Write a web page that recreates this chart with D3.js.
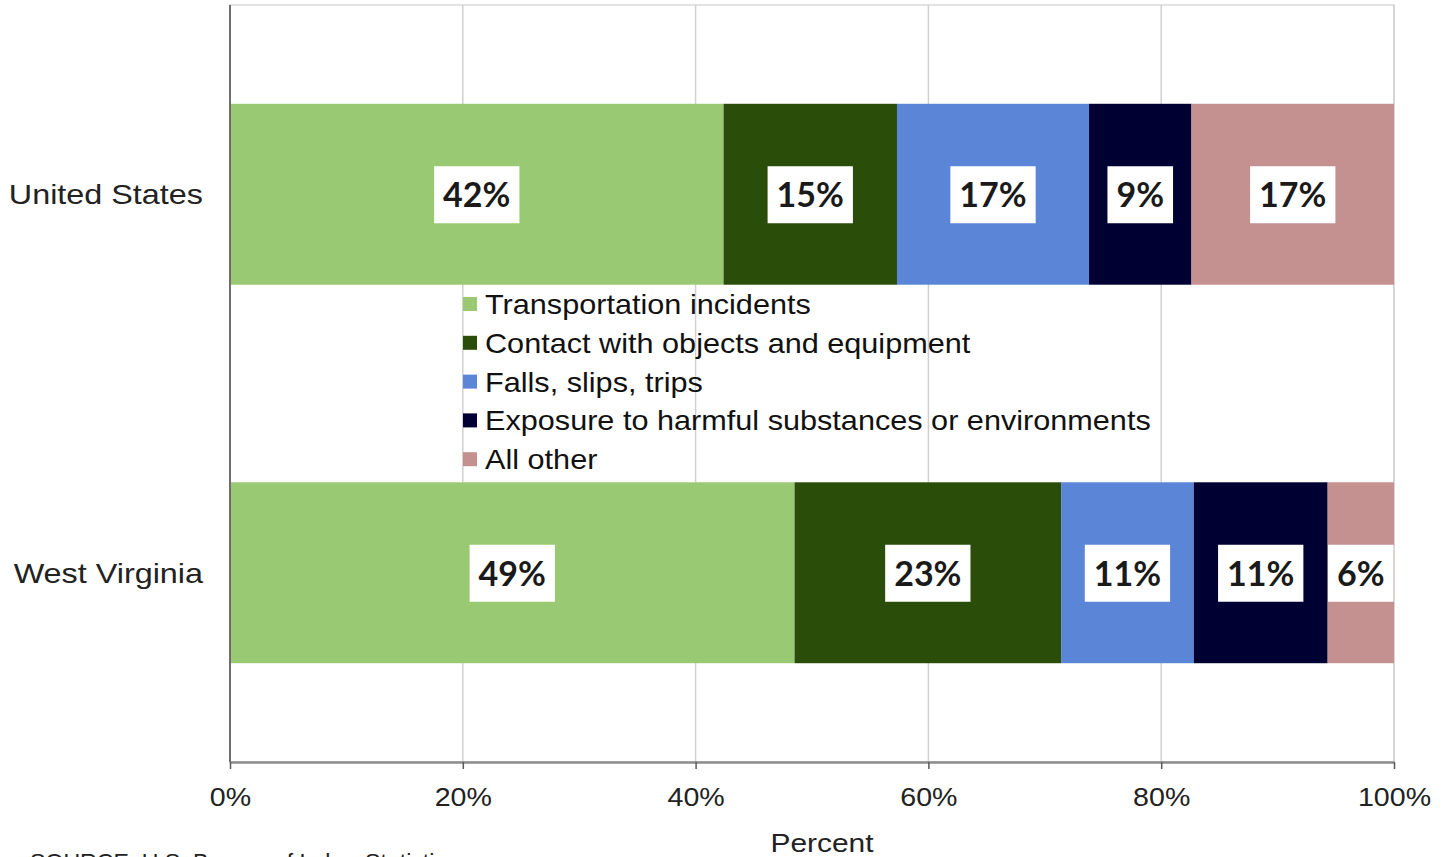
<!DOCTYPE html>
<html><head><meta charset="utf-8">
<script src="https://cdn.jsdelivr.net/npm/d3@7"></script>
<style>body{margin:0;background:#fff}svg{display:block}</style>
</head><body>
<svg id="c" width="1449" height="857"></svg>
<script>
const regions = ["United States", "West Virginia"];
const seriesNames = ["Transportation incidents", "Contact with objects and equipment", "Falls, slips, trips", "Exposure to harmful substances or environments", "All other"];
const usValues = [42.4, 14.9, 16.5, 8.8, 17.4];
const wvValues = [48.5, 22.9, 11.4, 11.5, 5.7];
const usLabels = ["42%", "15%", "17%", "9%", "17%"];
const wvLabels = ["49%", "23%", "11%", "11%", "6%"];
const colors = ["#99C973", "#2A4D0A", "#5B85D6", "#000033", "#C49090"];
const xTicks = [0, 20, 40, 60, 80, 100];

const svg = d3.select("#c");
const L = 230, R = 1394, T = 5, B = 762;
const x = d3.scaleLinear().domain([0, 100]).range([L, R]);
const y = d3.scaleBand().domain(regions).range([T, B]).paddingInner(0.522).paddingOuter(0.261);

function stretch(sel, f) {
  sel.each(function () {
    const w = this.getComputedTextLength();
    d3.select(this).attr("textLength", w * f).attr("lengthAdjust", "spacingAndGlyphs");
  });
}

// plot border & grid
svg.append("rect").attr("x", L).attr("y", T).attr("width", R - L).attr("height", B - T)
  .attr("fill", "none").attr("stroke", "#d9d9d9").attr("stroke-width", 1.5);
svg.append("g").selectAll("line").data(xTicks.slice(1)).join("line")
  .attr("x1", d => x(d)).attr("x2", d => x(d)).attr("y1", T).attr("y2", B)
  .attr("stroke", "#d0d0d0").attr("stroke-width", 1.5);

const rows = [
  {region: regions[0], values: usValues, labels: usLabels},
  {region: regions[1], values: wvValues, labels: wvLabels}
];

rows.forEach(r => {
  let cum = 0;
  const segs = r.values.map((v, i) => { const s = {x0: cum, x1: cum + v, i, label: r.labels[i]}; cum += v; return s; });
  const g = svg.append("g");
  g.selectAll("rect").data(segs).join("rect")
    .attr("x", d => x(d.x0)).attr("width", d => x(d.x1) - x(d.x0))
    .attr("y", y(r.region)).attr("height", y.bandwidth())
    .attr("fill", d => colors[d.i]);
  const cy = y(r.region) + y.bandwidth() / 2;
  segs.forEach(d => {
    const cx = (x(d.x0) + x(d.x1)) / 2;
    const lg = g.append("g");
    const box = lg.append("rect").attr("fill", "#fff");
    const t = lg.append("text").attr("x", cx).attr("y", cy + 13)
      .attr("text-anchor", "middle").attr("font-family", "Lato, 'Open Sans', sans-serif")
      .attr("font-weight", "bold").attr("font-size", 34).attr("fill", "#1a1a1a").text(d.label);
    const w = t.node().getComputedTextLength();
    box.attr("x", cx - w / 2 - 9).attr("width", w + 18).attr("y", cy - 28).attr("height", 57);
  });
});

// left axis line
svg.append("line").attr("x1", L).attr("x2", L).attr("y1", T).attr("y2", B)
  .attr("stroke", "#6e6e6e").attr("stroke-width", 2);

// x axis
const xAxis = d3.axisBottom(x).tickValues(xTicks).tickFormat(d => d + "%").tickSize(7).tickSizeOuter(0);
const ax = svg.append("g").attr("transform", `translate(0,${B})`).call(xAxis);
ax.select(".domain").attr("stroke", "#8c8c8c").attr("stroke-width", 2.5);
ax.selectAll(".tick line").attr("stroke", "#595959").attr("stroke-width", 1.5);
ax.selectAll(".tick text").attr("font-family", "'Liberation Sans', Arial, sans-serif")
  .attr("font-size", 26).attr("fill", "#222").attr("dy", "1.3em").call(stretch, 1.1);

// y category labels
svg.append("g").selectAll("text").data(regions).join("text")
  .attr("x", 203).attr("y", d => y(d) + y.bandwidth() / 2 + 10)
  .attr("text-anchor", "end").attr("font-family", "'Liberation Sans', Arial, sans-serif")
  .attr("font-size", 28).attr("fill", "#222").text(d => d).call(stretch, 1.155);

// axis title
svg.append("text").attr("x", 822).attr("y", 852).attr("text-anchor", "middle")
  .attr("font-family", "'Liberation Sans', Arial, sans-serif").attr("font-size", 26).attr("fill", "#222")
  .text("Percent").call(stretch, 1.15);

// source (cut off at the bottom edge, as in the reference)
svg.append("text").attr("x", 30).attr("y", 869)
  .attr("font-family", "'Liberation Sans', Arial, sans-serif").attr("font-size", 22).attr("fill", "#222")
  .text("SOURCE: U.S. Bureau of Labor Statistics").call(stretch, 1.05);

// legend
const leg = svg.append("g");
seriesNames.forEach((s, i) => {
  const ly = 304 + i * 38.8;
  leg.append("rect").attr("x", 463).attr("y", ly - 7).attr("width", 14).attr("height", 14).attr("fill", colors[i]);
  leg.append("text").attr("x", 485).attr("y", ly + 10)
    .attr("font-family", "'Liberation Sans', Arial, sans-serif").attr("font-size", 28)
    .attr("fill", "#111").text(s).call(stretch, 1.094);
});
</script>
</body></html>
